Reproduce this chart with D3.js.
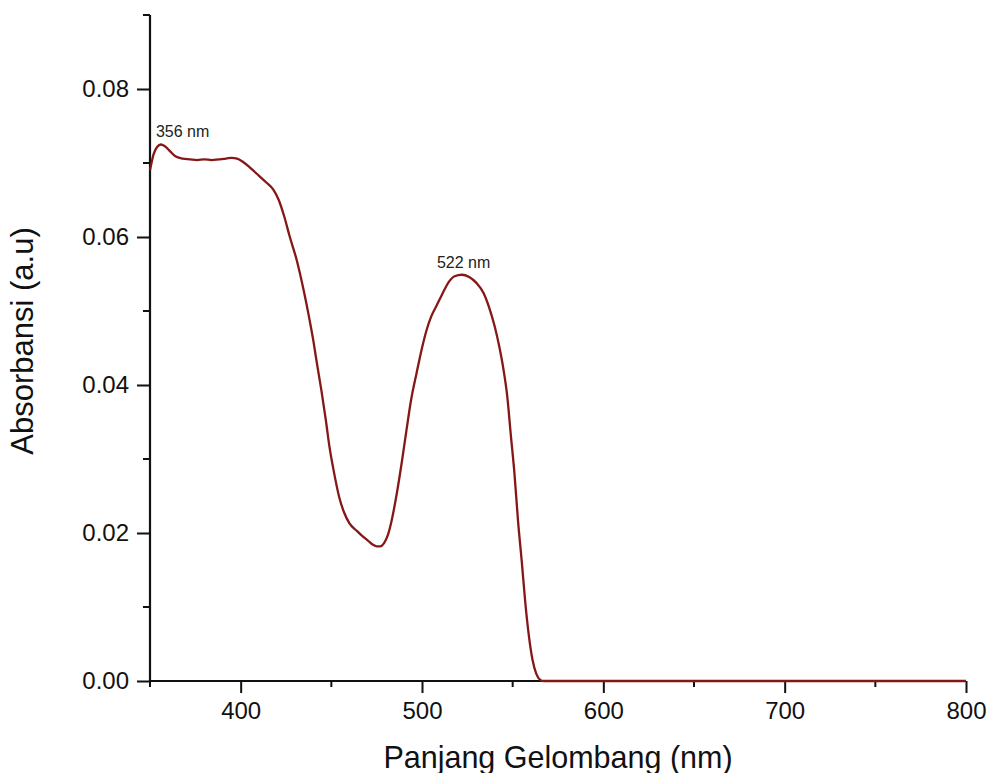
<!DOCTYPE html>
<html>
<head>
<meta charset="utf-8">
<script src="https://cdn.jsdelivr.net/npm/d3@7.9.0/dist/d3.min.js"></script>
<style>
  body { margin: 0; background: #fff; }
  svg { display: block; font-family: 'Liberation Sans', Arial, sans-serif; }
</style>
</head>
<body>
<svg id="chart" width="989" height="773"></svg>
<script>
// wavelength (nm)
const wavelength = [
  350, 352, 354, 356, 358, 361, 364, 368, 372, 376, 380, 384, 388, 392, 395, 398,
  401, 405, 410, 414, 418, 421, 424, 427, 431, 435, 438, 440, 442, 444.5, 447, 449,
  451, 454.5, 457, 460, 464, 467, 470, 473, 475, 477, 479, 481, 483, 486, 489, 491.5,
  494, 497, 500, 502.5, 505, 508, 511, 515, 518, 522, 526, 530, 534, 537, 540,
  542.7, 545, 547, 549, 551, 553, 555, 557, 559, 561, 563, 565, 567, 600, 700, 800
];
// absorbance (a.u)
const absorbance = [
  0.0690, 0.0712, 0.0722, 0.0725, 0.0723, 0.0716, 0.0709, 0.0706, 0.0705, 0.0704, 0.0705, 0.0704, 0.0705, 0.0706, 0.0707, 0.0706,
  0.0702, 0.0694, 0.0683, 0.0674, 0.0664, 0.0650, 0.0628, 0.0601, 0.0568, 0.0525, 0.0488, 0.0461, 0.0430, 0.0393, 0.0352, 0.0316,
  0.0288, 0.0247, 0.0228, 0.0213, 0.0203, 0.0196, 0.0190, 0.0184, 0.0182, 0.0182, 0.0186, 0.0196, 0.0214, 0.0252, 0.0298, 0.0340,
  0.0380, 0.0416, 0.0450, 0.0474, 0.0492, 0.0507, 0.0522, 0.0540, 0.0547, 0.0549, 0.0546, 0.0538, 0.0524, 0.0505, 0.0480,
  0.0451, 0.0420, 0.0385, 0.0332, 0.0280, 0.0215, 0.0162, 0.0105, 0.0060, 0.0028, 0.0010, 0.0002, 0.0, 0.0, 0.0, 0.0
];

const peakLabels = ['356 nm', '522 nm'];
const peakNm = [356, 522];
const peakAbs = [0.0725, 0.0549];

const xMajor = [400, 500, 600, 700, 800];
const xMinor = [350, 450, 550, 650, 750];
const yMajor = [0.00, 0.02, 0.04, 0.06, 0.08];
const yMinor = [0.01, 0.03, 0.05, 0.07, 0.09];

const margin = { left: 150, right: 23, top: 15, bottom: 92 };
const width = 989, height = 773;

const svg = d3.select('#chart');
svg.append('rect').attr('width', width).attr('height', height).attr('fill', '#fff');

const x = d3.scaleLinear().domain([350, 800]).range([margin.left, width - margin.right]);
const y = d3.scaleLinear().domain([0, 0.09]).range([height - margin.bottom, margin.top]);

const data = wavelength.map((w, i) => ({ w, a: absorbance[i] }));

// x axis
const xAxis = svg.append('g').attr('transform', `translate(0,${y(0)})`);
xAxis.call(d3.axisBottom(x).tickValues(xMajor).tickSize(12).tickPadding(9).tickFormat(d3.format('d')));
xAxis.append('g').selectAll('line').data(xMinor).join('line')
  .attr('x1', d => x(d)).attr('x2', d => x(d)).attr('y1', 0).attr('y2', 6)
  .attr('stroke', '#111').attr('stroke-width', 2);

// y axis
const yAxis = svg.append('g').attr('transform', `translate(${x(350)},0)`);
yAxis.call(d3.axisLeft(y).tickValues(yMajor).tickSize(13).tickPadding(8).tickFormat(d3.format('.2f')));
yAxis.append('g').selectAll('line').data(yMinor).join('line')
  .attr('y1', d => y(d)).attr('y2', d => y(d)).attr('x1', 0).attr('x2', -7)
  .attr('stroke', '#111').attr('stroke-width', 2);

svg.selectAll('.domain').attr('stroke', '#111').attr('stroke-width', 2.2);
svg.selectAll('.tick line').attr('stroke', '#111').attr('stroke-width', 2);
svg.selectAll('.tick text').attr('font-size', 24).attr('fill', '#111')
  .attr('font-family', "'Liberation Sans', Arial, sans-serif");
xAxis.selectAll('.domain').attr('d', `M${x(350)},0H${x(800)}`);
yAxis.selectAll('.domain').attr('d', `M0,${y(0)}V${y(0.09)}`);

// spectrum line
const line = d3.line()
  .x(d => x(d.w))
  .y(d => y(d.a))
  .curve(d3.curveMonotoneX);

svg.append('path')
  .datum(data)
  .attr('fill', 'none')
  .attr('stroke', '#851717')
  .attr('stroke-width', 2.3)
  .attr('stroke-linejoin', 'round')
  .attr('d', line);

// peak annotations
svg.append('g').selectAll('text').data(peakLabels).join('text')
  .attr('x', (d, i) => x(peakNm[i]) + (i === 0 ? -5 : -25))
  .attr('y', (d, i) => y(peakAbs[i]) - (i === 0 ? 8 : 7))
  .attr('font-size', 16)
  .attr('fill', '#222')
  .text(d => d);

// axis titles
svg.append('text')
  .attr('x', (x(350) + x(800)) / 2)
  .attr('y', 768)
  .attr('text-anchor', 'middle')
  .attr('font-size', 30.5)
  .attr('fill', '#111')
  .text('Panjang Gelombang (nm)');

svg.append('text')
  .attr('transform', `translate(33,341) rotate(-90)`)
  .attr('text-anchor', 'middle')
  .attr('font-size', 31)
  .attr('fill', '#111')
  .text('Absorbansi (a.u)');
</script>
</body>
</html>
